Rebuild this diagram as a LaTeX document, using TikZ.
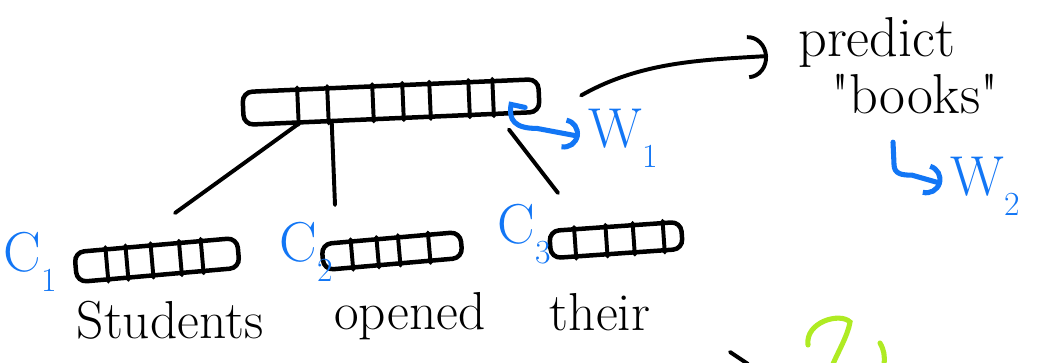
\documentclass[tikz,border=0pt]{standalone}
\usepackage{fontspec}
\usetikzlibrary{calc,arrows.meta}
\definecolor{inkblue}{RGB}{18,118,245}
\definecolor{inkgreen}{RGB}{175,235,35}
\newcommand\lowidx[1]{\raisebox{-.35em}{\fontsize{24}{26}\selectfont #1}}
\tikzset{
  vecbox/.style={draw,line width=3.2pt,rounded corners=7pt,inner sep=0pt},
  cell/.style={line width=2.8pt,line cap=round},
  link/.style={line width=2.8pt,line cap=round},
  inkarr/.style={line width=2.8pt,line cap=round,-{Arc Barb[length=5mm,width=11mm]}},
  bluearr/.style={draw=inkblue,line width=3.6pt,line cap=round,-{Arc Barb[length=4mm,width=8mm]}},
  word/.style={font=\fontsize{38}{42}\selectfont,inner sep=0pt},
  ctxlabel/.style={text=inkblue,font=\fontsize{40}{44}\selectfont,inner sep=0pt},
  wlabel/.style={text=inkblue,font=\fontsize{40}{44}\selectfont,inner sep=0pt},
  greenink/.style={draw=inkgreen,line width=3.6pt,line cap=round}
}
\begin{document}
\begin{tikzpicture}[x=0.025cm,y=-0.025cm]
  \useasboundingbox (0,0) rectangle (1053,362);

  % hidden state vector
  \node[vecbox,minimum width=7.4cm,minimum height=0.82cm,rotate=2.5] (top) at (391,102) {};
  \foreach \f in {.19,.29,.44,.54,.63,.76,.84}
    \draw[cell] ($(top.south west)!\f!(top.south east)$) -- ($(top.north west)!\f!(top.north east)$);

  % context vectors
  \node[vecbox,minimum width=4.08cm,minimum height=0.75cm,rotate=5] (c1) at (157,260) {};
  \foreach \f in {.2,.32,.47,.64,.77}
    \draw[cell] ($(c1.south west)!\f!(c1.south east)$) -- ($(c1.north west)!\f!(c1.north east)$);
  \node[vecbox,minimum width=3.48cm,minimum height=0.65cm,rotate=5] (c2) at (392,251) {};
  \foreach \f in {.22,.4,.55,.76}
    \draw[cell] ($(c2.south west)!\f!(c2.south east)$) -- ($(c2.north west)!\f!(c2.north east)$);
  \node[vecbox,minimum width=3.3cm,minimum height=0.68cm,rotate=4] (c3) at (616,240) {};
  \foreach \f in {.2,.43,.63,.85}
    \draw[cell] ($(c3.south west)!\f!(c3.south east)$) -- ($(c3.north west)!\f!(c3.north east)$);

  \node[ctxlabel] (lc1) at (30,262) {C\lowidx{1}};
  \node[ctxlabel] (lc2) at (306,252) {C\lowidx{2}};
  \node[ctxlabel] (lc3) at (524,234) {C\lowidx{3}};

  % words
  \node[word] (wstud) at (170,320) {Students};
  \node[word] (wopen) at (410,316) {opened};
  \node[word] (wtheir) at (600,312) {their};

  % links up to the hidden state
  \coordinate (s1) at (175,213);
  \coordinate (s2) at (335,205);
  \coordinate (s3) at (558,193);
  \draw[link] (s1) -- ($(top.south west)!.185!(top.south east)$);
  \draw[link] (s2) -- ($(top.south west)!.30!(top.south east)$);
  \draw[link] (s3) -- ($(top.south west)!.89!(top.south east)+(0,14)$);

  % output weights
  \node[wlabel,anchor=west] (w1) at (588,138) {W\lowidx{1}};
  \draw[bluearr,shorten >=6pt] ($(top.east)+(-16,12)$) -- ++(-14,-3) .. controls +(-3,16) and +(-22,0) .. ++(26,24) -- (w1.west);

  \node[word,anchor=west,font=\fontsize{40}{44}\selectfont] (pred) at (798,42) {predict};
  \node[word,font=\fontsize{40}{44}\selectfont] (books) at (915,94) {\textquotedbl books\textquotedbl};
  \draw[inkarr] ($(top.east)+(40,0)$) .. controls (640,62) and (700,60) .. ($(pred.west)+(-30,14)$);

  \node[wlabel,anchor=west] (w2) at (950,186) {W\lowidx{2}};
  \draw[bluearr,shorten >=6pt] ($(books.south)+(-22,28)$) -- ++(1,22) .. controls +(0,10) and +(-10,0) .. ++(18,11) -- (w2.west);

  % cut-off strokes at the bottom
  \draw[greenink] (808,345) .. controls (805,322) and (840,312) .. (850,322) .. controls (848,335) and (838,352) .. (833,364);
  \draw[greenink] (880,343) .. controls (884,350) and (885,356) .. (884,364);
  \draw[link] (730,352) -- (748,364);
\end{tikzpicture}
\end{document}
